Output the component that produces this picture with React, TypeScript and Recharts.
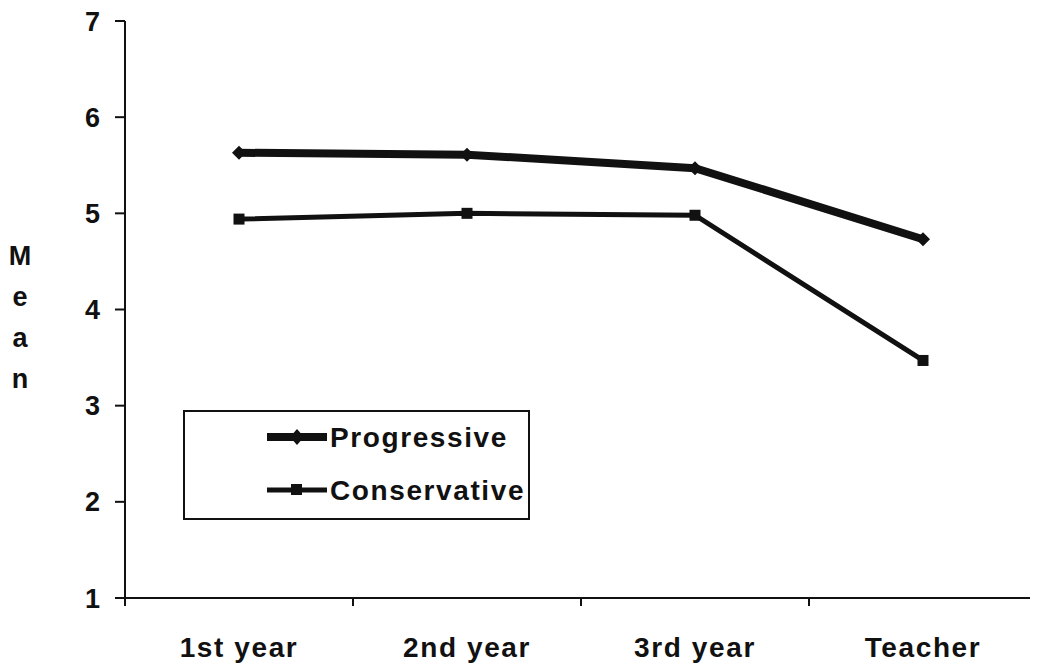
import React from "react";
import { LineChart, Line, XAxis, YAxis, Legend, Label } from "recharts";

const categories = ["1st year", "2nd year", "3rd year", "Teacher"];
const progressive = [5.63, 5.61, 5.47, 4.73];
const conservative = [4.94, 5.0, 4.98, 3.47];
const yTicks = [1, 2, 3, 4, 5, 6, 7];
const yLabelLetters = ["M", "e", "a", "n"];

const data = categories.map((c, i) => ({
  cat: c,
  progressive: progressive[i],
  conservative: conservative[i],
}));

const FONT = "'Liberation Sans', Arial, sans-serif";
const INK = "#111";

const Diamond = (props: any) => {
  const { cx, cy } = props;
  if (cx == null || cy == null) return null;
  const r = 7;
  return (
    <polygon
      points={`${cx - r},${cy} ${cx},${cy - r} ${cx + r},${cy} ${cx},${cy + r}`}
      fill={INK}
    />
  );
};

const Square = (props: any) => {
  const { cx, cy } = props;
  if (cx == null || cy == null) return null;
  const s = 11;
  return <rect x={cx - s / 2} y={cy - s / 2} width={s} height={s} fill={INK} />;
};

const CatTick = (props: any) => {
  const { x, y, payload, index, visibleTicksCount } = props;
  const half = payload && payload.offset != null ? payload.offset : 0;
  const last = index === (visibleTicksCount ?? categories.length) - 1;
  return (
    <g>
      <line x1={x - half} y1={y} x2={x - half} y2={y + 8} stroke={INK} strokeWidth={2} />
      {last ? (
        <line x1={x + half} y1={y} x2={x + half} y2={y + 8} stroke={INK} strokeWidth={2} />
      ) : null}
      <text
        x={x}
        y={y + 39}
        dy="0.71em"
        textAnchor="middle"
        fontFamily={FONT}
        fontWeight="bold"
        fontSize={28}
        letterSpacing={1.6}
        fill={INK}
      >
        {payload.value}
      </text>
    </g>
  );
};

const LegendBox = () => (
  <div
    style={{
      width: 347,
      height: 110,
      border: `2px solid ${INK}`,
      boxSizing: "border-box",
      background: "#fff",
    }}
  >
    <svg width={343} height={106}>
      <line x1={82} y1={25} x2={142} y2={25} stroke={INK} strokeWidth={8} />
      <polygon points="105,25 112,17 119,25 112,33" fill={INK} />
      <text
        x={145}
        y={35}
        fontFamily={FONT}
        fontWeight="bold"
        fontSize={28}
        letterSpacing={1.6}
        fill={INK}
      >
        Progressive
      </text>
      <line x1={82} y1={78} x2={142} y2={78} stroke={INK} strokeWidth={5} />
      <rect x={106} y={72} width={11} height={11} fill={INK} />
      <text
        x={145}
        y={88}
        fontFamily={FONT}
        fontWeight="bold"
        fontSize={28}
        letterSpacing={1.6}
        fill={INK}
      >
        Conservative
      </text>
    </svg>
  </div>
);

const MeanLabel = () => (
  <text
    x={12}
    y={257}
    fontFamily={FONT}
    fontWeight="bold"
    fontSize={27}
    fill={INK}
    textAnchor="middle"
  >
    {yLabelLetters.map((l, i) => (
      <tspan key={i} x={12} dy={i === 0 ? 0 : 41}>
        {l}
      </tspan>
    ))}
  </text>
);

export default function App() {
  return (
    <div style={{ background: "#fff" }}>
      <LineChart
        width={1030}
        height={659}
        data={data}
        margin={{ top: 13, right: 1, left: 0, bottom: 0 }}
      >
        <XAxis
          dataKey="cat"
          type="category"
          scale="band"
          axisLine={{ stroke: INK, strokeWidth: 2 }}
          tickLine={false}
          tickSize={0}
          tickMargin={0}
          height={69}
          interval={0}
          tick={<CatTick />}
        />
        <YAxis
          domain={[1, 7]}
          ticks={yTicks}
          width={117}
          tickSize={10}
          tickMargin={15}
          stroke={INK}
          strokeWidth={2}
          interval={0}
          tick={{ fontSize: 27, fontWeight: "bold", fill: INK, fontFamily: FONT }}
        >
          <Label content={<MeanLabel />} />
        </YAxis>
        <Line
          dataKey="progressive"
          name="Progressive"
          stroke={INK}
          strokeWidth={8}
          dot={<Diamond />}
          activeDot={false}
          isAnimationActive={false}
        />
        <Line
          dataKey="conservative"
          name="Conservative"
          stroke={INK}
          strokeWidth={5}
          dot={<Square />}
          activeDot={false}
          isAnimationActive={false}
        />
        <Legend
          layout="vertical"
          align="center"
          verticalAlign="middle"
          content={<LegendBox />}
          wrapperStyle={{ position: "absolute", left: 175, top: 402, width: 347, height: 110 }}
        />
      </LineChart>
    </div>
  );
}
